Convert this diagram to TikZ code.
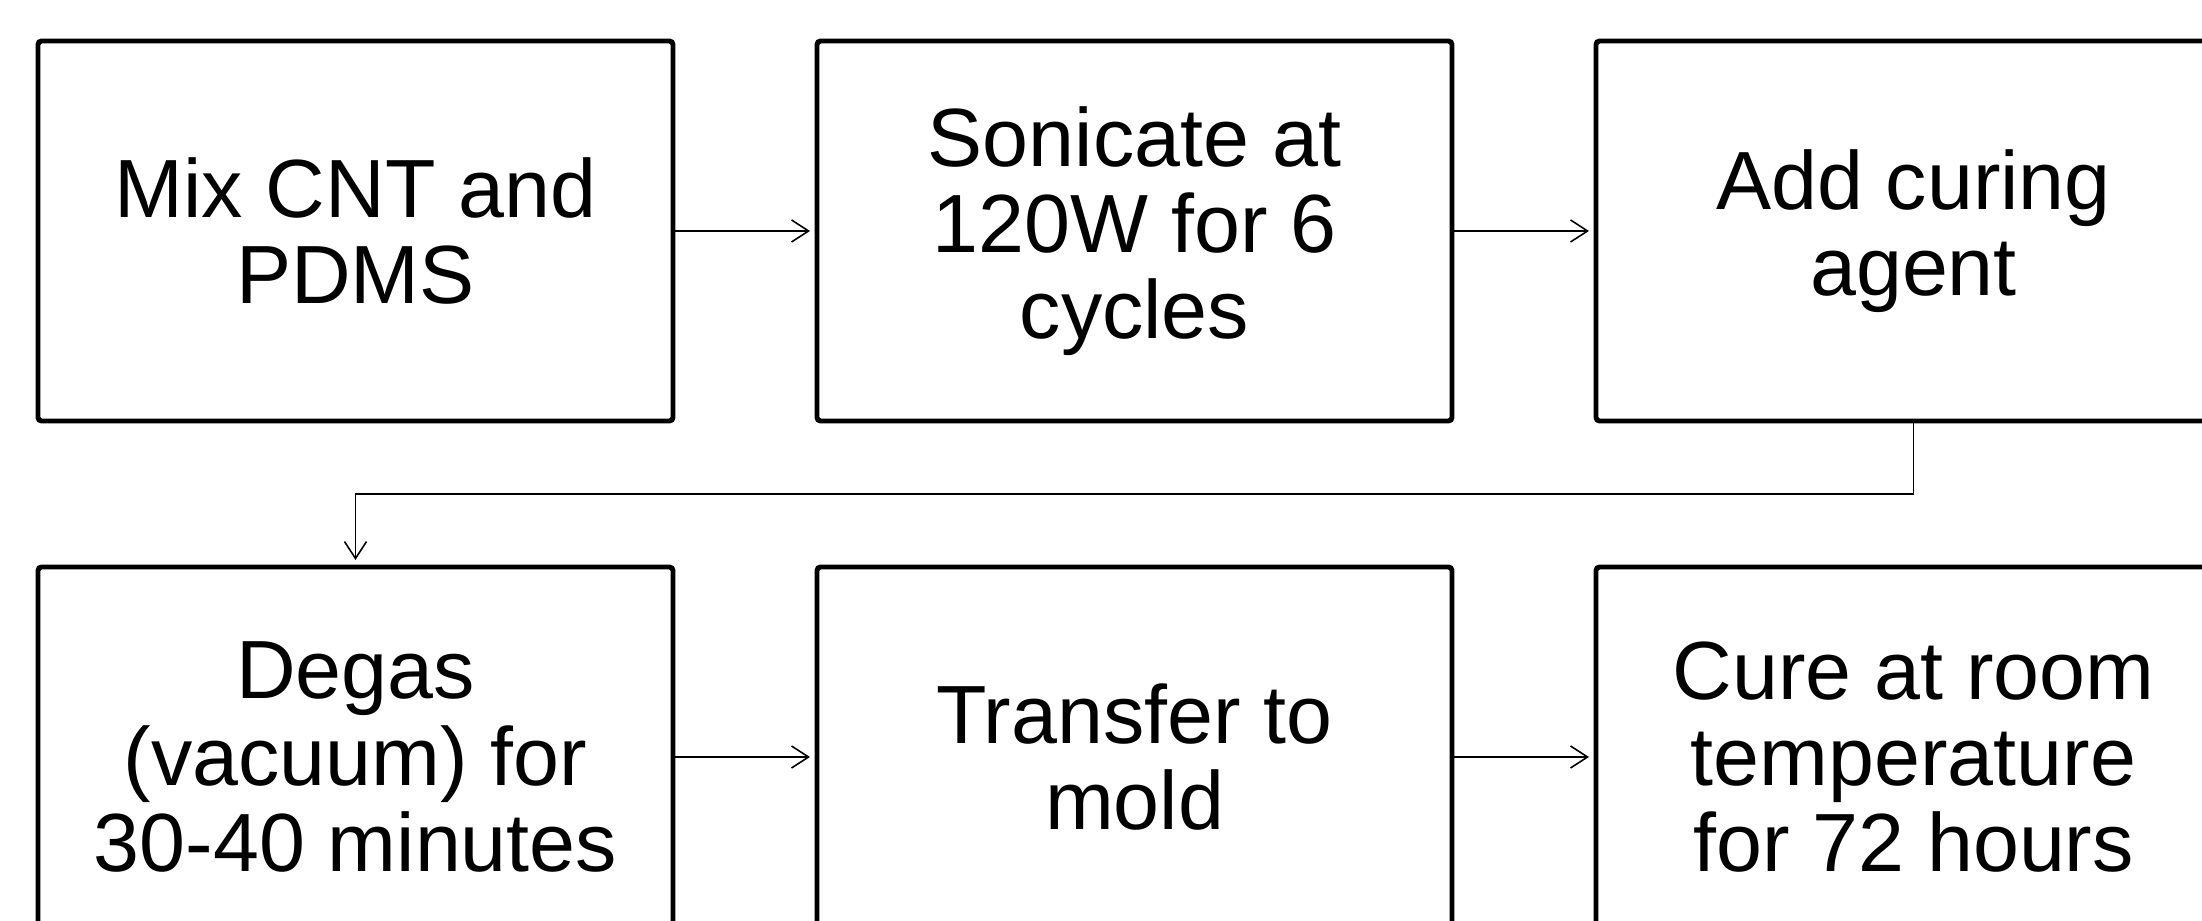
\documentclass[tikz,border=0pt]{standalone}
\usepackage{fontspec}
\setmainfont{Liberation Sans}
\usetikzlibrary{arrows.meta,positioning,calc}
\tikzset{
  procbox/.style={rectangle,draw=black,line width=1.4pt,rounded corners=1pt,fill=white,align=center,
    minimum width=6.35cm,minimum height=3.8cm,outer sep=0pt,font=\fontsize{23.5}{24.5}\selectfont},
  arr/.style={-{Straight Barb[length=0.17cm,width=0.22cm]},line width=0.45pt,shorten >=0.07cm}
}
\begin{document}
\begin{tikzpicture}[node distance=1.46cm and 1.44cm]
  \useasboundingbox (0,0) rectangle (22.02,9.21);
  \clip (0,0) rectangle (22.02,9.21);
  % top row
  \node[procbox] (mix) at (3.555,6.90) {Mix CNT and\\PDMS};
  \node[procbox,right=of mix] (sonic) {Sonicate at\\120W for 6\\cycles};
  \node[procbox,right=of sonic] (curing) {Add curing\\agent};
  % bottom row
  \node[procbox,below=of mix] (degas) {Degas\\(vacuum) for\\30-40 minutes};
  \node[procbox,right=of degas] (mold) {Transfer to\\mold};
  \node[procbox,right=of mold] (cure) {Cure at room\\temperature\\for 72 hours};
  \foreach \a/\b in {mix/sonic,sonic/curing,degas/mold,mold/cure} \draw[arr] (\a)--(\b);
  \coordinate (turn) at ($(curing.south)!0.5!(degas.north)$);
  \draw[arr] (curing.south) |- (turn) -| (degas.north);
\end{tikzpicture}
\end{document}
